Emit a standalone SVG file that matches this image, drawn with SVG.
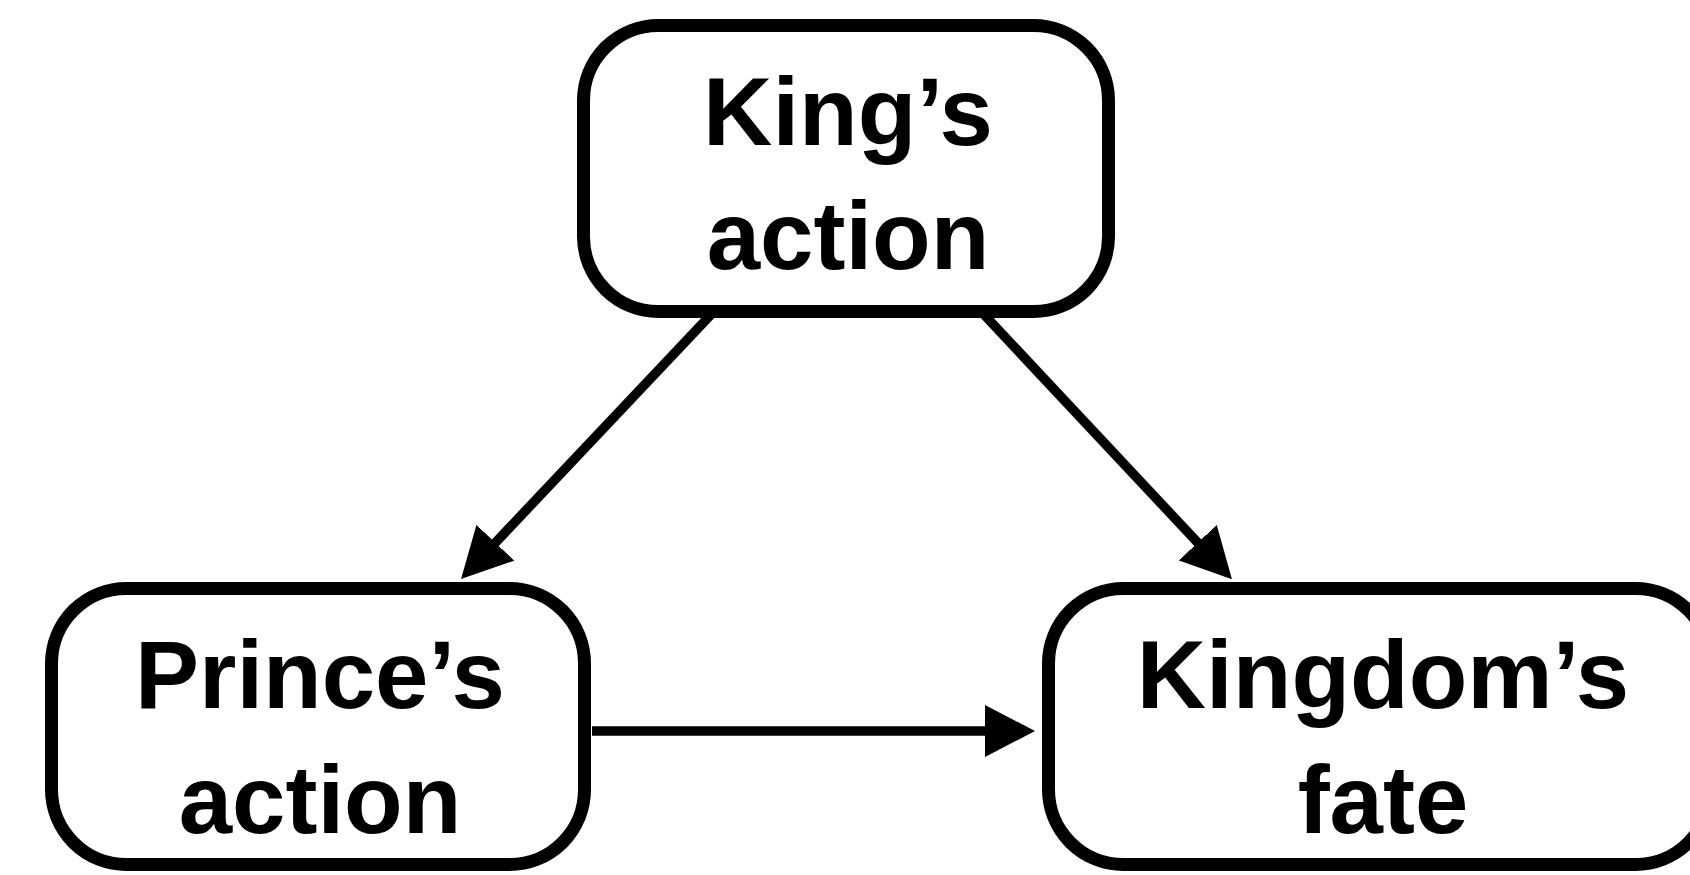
<svg xmlns="http://www.w3.org/2000/svg" width="1690" height="875" viewBox="0 0 1690 875">
<style>
.box{fill:#fff;stroke:#000;stroke-width:13}
.lbl{font-family:"Liberation Sans",Arial,sans-serif;font-weight:bold;font-size:96px;fill:#000;text-anchor:middle}
.edge{fill:none;stroke:#000;stroke-width:9.5}
</style>
<defs>
<marker id="ah" markerUnits="userSpaceOnUse" markerWidth="50" markerHeight="52" viewBox="0 0 50 52" refX="10" refY="26" orient="auto">
<path d="M0,0 L50,26 L0,52 z" fill="#000"/>
</marker>
</defs>
<rect width="1690" height="875" fill="#fff"/>
<g id="connectors">
<path class="edge" d="M711.5,314 L488.5,550" marker-end="url(#ah)"/>
<path class="edge" d="M983.5,314 L1204.6,550" marker-end="url(#ah)"/>
<path class="edge" d="M592,731 L995,731" marker-end="url(#ah)"/>
</g>
<g id="king">
<rect class="box" x="583.5" y="25.5" width="525" height="286" rx="75"/>
<text class="lbl" x="848" y="145">King’s</text>
<text class="lbl" x="848" y="269">action</text>
</g>
<g id="prince">
<rect class="box" x="51.5" y="588.5" width="533" height="276" rx="75"/>
<text class="lbl" x="320" y="708">Prince’s</text>
<text class="lbl" x="320" y="833">action</text>
</g>
<g id="kingdom">
<rect class="box" x="1048.5" y="588.5" width="662" height="276" rx="75"/>
<text class="lbl" x="1383" y="708">Kingdom’s</text>
<text class="lbl" x="1383" y="833">fate</text>
</g>
</svg>
